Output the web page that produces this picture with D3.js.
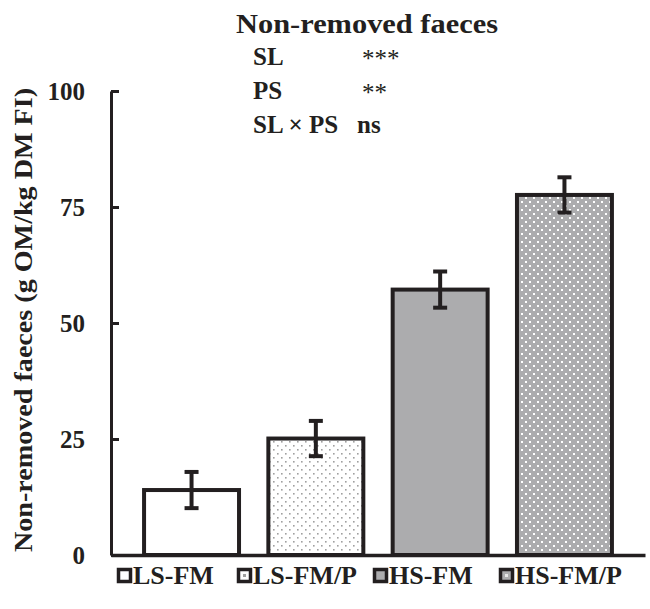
<!DOCTYPE html>
<html>
<head>
<meta charset="utf-8">
<script src="https://cdn.jsdelivr.net/npm/d3@7"></script>
<style>
  body { margin: 0; background: #fff; }
</style>
</head>
<body>
<div id="chart"></div>
<script>
var groups = ["LS-FM", "LS-FM/P", "HS-FM", "HS-FM/P"];
var means = [14.0, 25.1, 57.2, 77.6];
var errors = [3.9, 3.8, 3.9, 3.8];
var yTicks = [0, 25, 50, 75, 100];
var statLabels = ["SL", "PS", "SL \u00d7 PS"];
var statValues = ["***", "**", "ns"];

var ink = "#231f20",
    grey = "#acacae",
    font = "'Liberation Serif', 'Times New Roman', serif";

var svg = d3.select("#chart")
    .append("svg")
    .attr("width", 650)
    .attr("height", 609);

function txt(sel, size, weight) {
    return sel.style("font-family", font)
        .style("font-size", size + "px")
        .style("font-weight", weight || "bold")
        .attr("fill", ink);
}

// fill patterns
var defs = svg.append("defs");
var p1 = defs.append("pattern")
    .attr("id", "dotsLight")
    .attr("patternUnits", "userSpaceOnUse")
    .attr("width", 8).attr("height", 8);
p1.append("rect").attr("width", 8).attr("height", 8).attr("fill", "#fff");
p1.append("rect").attr("x", 1).attr("y", 1).attr("width", 1.6).attr("height", 1.6).attr("fill", "#a0a0a0");
p1.append("rect").attr("x", 5).attr("y", 5).attr("width", 1.6).attr("height", 1.6).attr("fill", "#a0a0a0");

var p2 = defs.append("pattern")
    .attr("id", "dotsGrey")
    .attr("patternUnits", "userSpaceOnUse")
    .attr("width", 8).attr("height", 8);
p2.append("rect").attr("width", 8).attr("height", 8).attr("fill", grey);
p2.append("rect").attr("x", 1).attr("y", 1).attr("width", 2).attr("height", 2).attr("fill", "#fff");
p2.append("rect").attr("x", 5).attr("y", 5).attr("width", 2).attr("height", 2).attr("fill", "#fff");

var fills = ["#fff", "url(#dotsLight)", grey, "url(#dotsGrey)"];
var swatchFills = ["#fff", "#fff", grey, grey];
var swatchDots = [null, "#a0a0a0", null, "#e8e8e8"];

var x = d3.scaleBand()
    .domain(groups)
    .range([111, 645])
    .paddingInner(0.236)
    .paddingOuter(0.266);

var y = d3.scaleLinear()
    .domain([0, 100])
    .range([555, 91]);

// bars
svg.selectAll(".bar")
    .data(groups)
    .enter()
    .append("rect")
    .attr("class", "bar")
    .attr("x", function(d) { return x(d); })
    .attr("width", x.bandwidth())
    .attr("y", function(d, i) { return y(means[i]); })
    .attr("height", function(d, i) { return y(0) - y(means[i]); })
    .attr("fill", function(d, i) { return fills[i]; })
    .attr("stroke", ink)
    .attr("stroke-width", 4);

// error bars
var eb = svg.selectAll(".err")
    .data(groups)
    .enter()
    .append("g")
    .attr("class", "err")
    .attr("stroke", ink)
    .attr("stroke-width", 4);

eb.append("line")
    .attr("x1", function(d) { return x(d) + x.bandwidth() / 2; })
    .attr("x2", function(d) { return x(d) + x.bandwidth() / 2; })
    .attr("y1", function(d, i) { return y(means[i] + errors[i]); })
    .attr("y2", function(d, i) { return y(means[i] - errors[i]); });

[1, -1].forEach(function(s) {
    eb.append("line")
        .attr("x1", function(d) { return x(d) + x.bandwidth() / 2 - 7; })
        .attr("x2", function(d) { return x(d) + x.bandwidth() / 2 + 7; })
        .attr("y1", function(d, i) { return y(means[i] + s * errors[i]); })
        .attr("y2", function(d, i) { return y(means[i] + s * errors[i]); });
});

// y axis
var yAxis = svg.append("g")
    .attr("transform", "translate(111,0)")
    .call(d3.axisLeft(y)
        .tickValues(yTicks)
        .tickSizeInner(-8)
        .tickSizeOuter(0)
        .tickPadding(26));
yAxis.select(".domain").attr("stroke", ink).attr("stroke-width", 3);
yAxis.selectAll(".tick line").attr("stroke", ink).attr("stroke-width", 3);
txt(yAxis.selectAll(".tick text"), 25);

// x axis
var xAxis = svg.append("g")
    .attr("transform", "translate(0,555)")
    .call(d3.axisBottom(x).tickSize(0).tickSizeOuter(0).tickFormat(""));
xAxis.select(".domain").attr("stroke", ink).attr("stroke-width", 3.5);
xAxis.selectAll(".tick").remove();

// y label
txt(svg.append("text"), 25)
    .attr("transform", "translate(32,320) rotate(-90)")
    .attr("text-anchor", "middle")
    .attr("textLength", 464)
    .attr("lengthAdjust", "spacingAndGlyphs")
    .text("Non-removed faeces (g OM/kg DM FI)");

// title
txt(svg.append("text"), 27)
    .attr("x", 236)
    .attr("y", 33)
    .attr("textLength", 262)
    .attr("lengthAdjust", "spacingAndGlyphs")
    .text("Non-removed faeces");

// stats
txt(svg.selectAll(".statL")
    .data(statLabels)
    .enter()
    .append("text"), 25)
    .attr("x", 253)
    .attr("y", function(d, i) { return 65 + i * 34; })
    .text(function(d) { return d; });

txt(svg.selectAll(".statV")
    .data(statValues)
    .enter()
    .append("text"), 25)
    .attr("x", function(d) { return d === "ns" ? 357 : 362; })
    .attr("y", function(d, i) { return 65 + i * 34 + (d === "ns" ? 0 : 2); })
    .style("font-weight", function(d) { return d === "ns" ? "bold" : "normal"; })
    .text(function(d) { return d; });

// legend
var legX = [117, 237, 373, 499];
var leg = svg.selectAll(".leg")
    .data(groups)
    .enter()
    .append("g")
    .attr("class", "leg")
    .attr("transform", function(d, i) { return "translate(" + legX[i] + ",576)"; });

leg.append("rect")
    .attr("x", 1.5).attr("y", -6.5)
    .attr("width", 12).attr("height", 12)
    .attr("fill", function(d, i) { return swatchFills[i]; })
    .attr("stroke", ink)
    .attr("stroke-width", 3.5);

leg.filter(function(d, i) { return swatchDots[i]; })
    .append("rect")
    .attr("x", 6).attr("y", -2)
    .attr("width", 3).attr("height", 3)
    .attr("fill", function(d) { return swatchDots[groups.indexOf(d)]; });

txt(leg.append("text"), 26)
    .attr("x", 16)
    .attr("y", 8)
    .text(function(d) { return d; });
</script>
</body>
</html>
